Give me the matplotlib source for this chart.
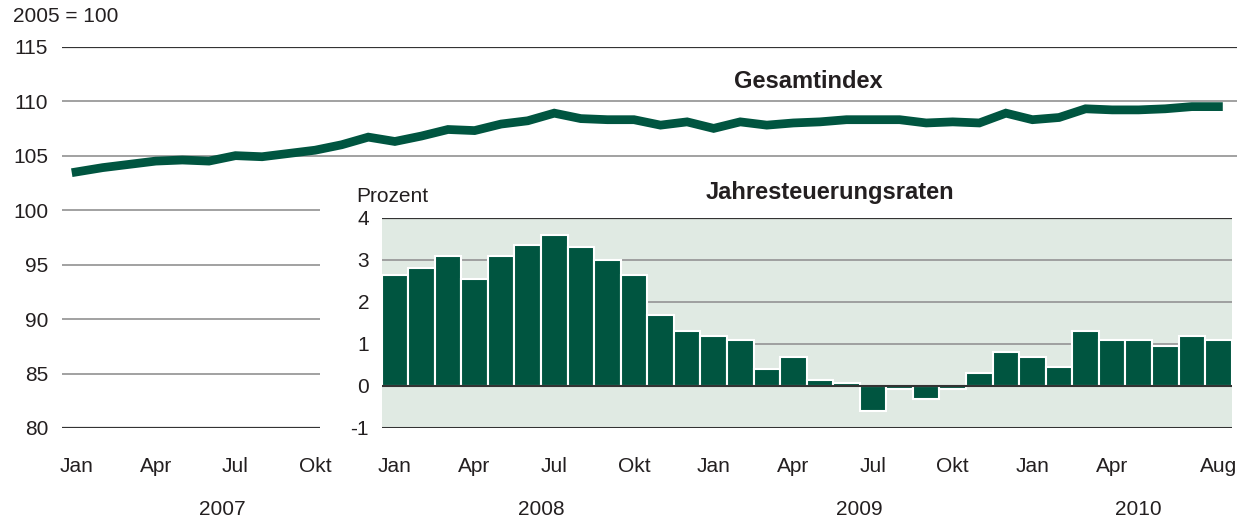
import matplotlib.pyplot as plt
import numpy as np

plt.rcParams['font.family'] = ['Liberation Sans', 'DejaVu Sans']
plt.rcParams['axes.unicode_minus'] = False

# ----- Daten -----
gesamtindex = [
    103.5, 103.9, 104.2, 104.5, 104.6, 104.5, 105.0, 104.9, 105.2, 105.5, 106.0, 106.7,  # 2007
    106.3, 106.8, 107.4, 107.3, 107.9, 108.2, 108.9, 108.4, 108.3, 108.3, 107.8, 108.1,  # 2008
    107.5, 108.1, 107.8, 108.0, 108.1, 108.3, 108.3, 108.3, 108.0, 108.1, 108.0, 108.9,  # 2009
    108.3, 108.5, 109.3, 109.2, 109.2, 109.3, 109.5, 109.5,                              # 2010
]
teuerung = [
    2.65, 2.8, 3.1, 2.55, 3.1, 3.35, 3.6, 3.3, 3.0, 2.65, 1.7, 1.3,          # 2008
    1.2, 1.1, 0.4, 0.7, 0.15, 0.06, -0.6, -0.08, -0.3, -0.08, 0.3, 0.8,     # 2009
    0.7, 0.45, 1.3, 1.1, 1.1, 0.95, 1.2, 1.1,                               # 2010
]
monat_ticks = [0, 3, 6, 9, 12, 15, 18, 21, 24, 27, 30, 33, 36, 39, 43]
monat_labels = ["Jan", "Apr", "Jul", "Okt"] * 3 + ["Jan", "Apr", "Aug"]
jahre = ["2007", "2008", "2009", "2010"]
jahr_mitte = [5.5, 17.5, 29.5, 40.0]

GRUEN = "#005540"
TEXT = "#231f20"
GRAU = "#9a9a9a"
DUNKEL = "#333333"
FS = 15
FS_TITEL = 17

x_idx = np.arange(len(gesamtindex))
x_bar = np.arange(12, 12 + len(teuerung))

fig = plt.figure(figsize=(12.5, 5.25), dpi=100)
ax = fig.add_axes([62 / 1250, 1 - 428 / 525, 1175 / 1250, (428 - 46.7) / 525])

xmin, xmax = -0.53, 43.7
ax.set_xlim(xmin, xmax)
ax.set_ylim(80, 115)
for s in ax.spines.values():
    s.set_visible(False)

# Gitterlinien (links vom Inset verkürzt)
x_kurz = 9.2
ax.hlines(115, xmin, xmax, color=DUNKEL, lw=1.6, zorder=1)
for v in [110, 105]:
    ax.hlines(v, xmin, xmax, color=GRAU, lw=1.3, zorder=1)
for v in [100, 95, 90, 85]:
    ax.hlines(v, xmin, x_kurz, color=GRAU, lw=1.3, zorder=1)
ax.hlines(80, xmin, x_kurz, color=DUNKEL, lw=1.6, zorder=1)

ax.plot(x_idx, gesamtindex, color=GRUEN, lw=6.3, solid_joinstyle='miter', zorder=3)

ax.set_yticks(range(80, 116, 5))
ax.tick_params(axis='y', length=0, pad=10, labelsize=FS, labelcolor=TEXT)
ax.set_xticks(monat_ticks)
ax.set_xticklabels(monat_labels)
ax.tick_params(axis='x', length=0, pad=21, labelsize=FS, labelcolor=TEXT)

for j, xm in zip(jahre, jahr_mitte):
    ax.text(xm, -0.215, j, transform=ax.get_xaxis_transform(), ha='center', va='center',
            fontsize=FS, color=TEXT)

ax.text(-0.042, 1.08, "2005 = 100", transform=ax.transAxes, ha='left', va='center',
        fontsize=FS, color=TEXT)
ax.text(27.55, 111.8, "Gesamtindex", ha='center', va='center', fontsize=FS_TITEL,
        fontweight='bold', color=TEXT)

# ----- Inset: Jahresteuerungsraten -----
top = 115 - (218 - 46.7) / ((428 - 46.7) / 35)
ins = ax.inset_axes([11.5, 80, 32, top - 80], transform=ax.transData)
ins.set_xlim(11.5, 43.5)
ins.set_ylim(-1, 4)
ins.set_facecolor("#e0eae3")
for s in ins.spines.values():
    s.set_visible(False)
for v in [3, 2, 1]:
    ins.axhline(v, color=GRAU, lw=1.3, zorder=1)
ins.axhline(4, color=DUNKEL, lw=1.6, zorder=1)
ins.axhline(-1, color=DUNKEL, lw=2.2, zorder=1)
ins.bar(x_bar, teuerung, width=1.0, color=GRUEN, edgecolor='white', lw=1.5, zorder=2)
ins.axhline(0, color=DUNKEL, lw=1.5, zorder=3)
ins.set_xticks([])
ins.set_yticks(range(-1, 5))
ins.tick_params(axis='y', length=0, pad=9, labelsize=FS, labelcolor=TEXT)
ins.text(-0.03, 1.1, "Prozent", transform=ins.transAxes, ha='left', va='center',
         fontsize=FS, color=TEXT)
ins.text(0.527, 1.12, "Jahresteuerungsraten", transform=ins.transAxes, ha='center',
         va='center', fontsize=FS_TITEL, fontweight='bold', color=TEXT)

fig.savefig("out.png", dpi=100)
